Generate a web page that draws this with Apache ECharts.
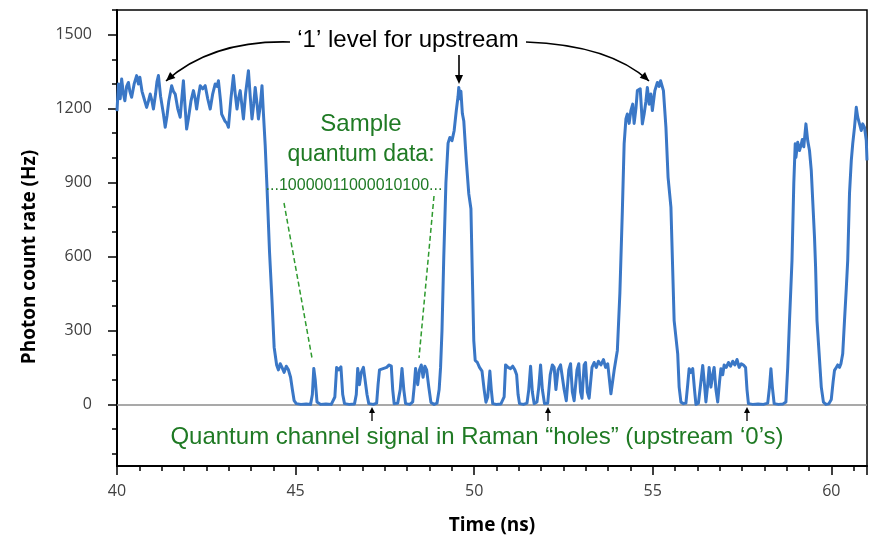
<!DOCTYPE html>
<html>
<head>
<meta charset="utf-8">
<title>Photon count rate</title>
<script src="https://cdn.jsdelivr.net/npm/echarts@6/dist/echarts.min.js"></script>
<style>
  html, body { margin: 0; padding: 0; background: #fff; }
  #chart { width: 884px; height: 548px; }
</style>
</head>
<body>
<div id="chart"></div>
<script>
// [time (ns), photon count rate (Hz)], segment by segment
const highUpstream1 = [
  [40.00,1190],[40.04,1300],[40.09,1240],[40.13,1320],[40.18,1260],[40.22,1232],[40.27,1290],[40.32,1306],
  [40.36,1270],[40.41,1246],[40.48,1300],[40.55,1334],[40.60,1300],[40.64,1327],[40.70,1270],[40.76,1240],
  [40.83,1205],[40.88,1230],[40.93,1259],[40.98,1230],[41.02,1198],[41.08,1260],[41.12,1310],[41.16,1334],
  [41.22,1250],[41.30,1178],[41.35,1124],[41.40,1170],[41.45,1230],[41.53,1293],[41.58,1270],[41.63,1259],
  [41.70,1200],[41.77,1165],[41.82,1250],[41.86,1313],[41.90,1220],[41.95,1117],[42.00,1160],[42.07,1230],
  [42.14,1273],[42.19,1240],[42.23,1198],[42.28,1250],[42.33,1293],[42.40,1280],[42.47,1293],[42.54,1240],
  [42.61,1198],[42.68,1260],[42.75,1300],[42.80,1290],[42.84,1313],[42.90,1230],[42.93,1178],[43.02,1150],
  [43.08,1140],[43.12,1124],[43.19,1240],[43.26,1334],[43.31,1260],[43.36,1198],[43.40,1240],[43.45,1273],
  [43.50,1210],[43.54,1158],[43.60,1260],[43.68,1354],[43.73,1250],[43.78,1158],[43.83,1220],[43.87,1286],
  [43.92,1220],[43.96,1158],[44.01,1210],[44.06,1293],[44.10,1180]
];
const holes1 = [
  [44.15,1050],[44.20,880],[44.27,620],[44.34,421],[44.40,232],[44.47,160],[44.52,140],[44.57,165],
  [44.62,150],[44.68,130],[44.74,155],[44.80,140],[44.86,110],[44.91,60],[44.96,15],[45.02,3],
  [45.15,0],[45.30,2],[45.42,0],[45.47,40],[45.51,146],[45.55,100],[45.60,10],[45.70,0],
  [45.85,2],[46.00,0],[46.10,30],[46.15,150],[46.21,140],[46.27,152],[46.32,40],[46.37,3],
  [46.50,0],[46.65,2],[46.70,40],[46.74,146],[46.79,80],[46.84,130],[46.90,150],[46.95,148],
  [47.00,40],[47.05,3],[47.18,0],[47.27,5],[47.31,80],[47.35,140],[47.45,145],[47.55,150],
  [47.62,160],[47.68,155],[47.72,60],[47.76,3],[47.86,5],[47.93,60],[47.98,146],[48.03,60],
  [48.08,3],[48.20,0],[48.28,10],[48.32,70],[48.36,146],[48.42,80],[48.47,140],[48.52,160],
  [48.57,110],[48.62,155],[48.67,140],[48.73,70],[48.79,8],[48.88,0],[48.96,5]
];
const highUpstream2 = [
  [49.02,60],[49.06,150],[49.10,300],[49.15,600],[49.21,900],[49.27,1060],[49.32,1083],[49.38,1070],
  [49.44,1110],[49.50,1192],[49.55,1250],[49.57,1286],[49.60,1240],[49.63,1270],[49.67,1180],[49.71,1150],
  [49.78,990],[49.85,854],[49.91,794],[49.95,520],[49.99,259]
];
const holes2 = [
  [50.03,178],[50.09,170],[50.15,150],[50.22,135],[50.28,60],[50.33,9],[50.38,30],[50.44,135],
  [50.48,60],[50.52,3],[50.62,0],[50.75,2],[50.84,30],[50.88,160],[50.95,150],[51.02,145],
  [51.08,155],[51.14,140],[51.19,120],[51.23,40],[51.27,3],[51.38,0],[51.48,5],[51.53,60],
  [51.58,155],[51.63,50],[51.68,3],[51.76,10],[51.81,70],[51.86,160],[51.91,60],[51.97,3],
  [52.06,5],[52.13,120],[52.19,160],[52.24,150],[52.29,60],[52.35,140],[52.42,160],[52.47,165],
  [52.52,60],[52.58,15],[52.65,140],[52.70,165],[52.75,50],[52.80,15],[52.88,140],[52.93,165],
  [52.98,50],[53.02,25],[53.08,160],[53.12,170],[53.17,50],[53.22,25],[53.30,150],[53.36,170],
  [53.42,150],[53.48,175],[53.55,160],[53.62,182],[53.68,150],[53.74,165],[53.83,43],[53.92,138],
  [54.01,219]
];
const highUpstream3 = [
  [54.08,450],[54.15,786],[54.20,1057],[54.25,1158],[54.29,1178],[54.34,1140],[54.39,1193],[54.44,1218],
  [54.48,1140],[54.53,1200],[54.57,1273],[54.65,1280],[54.71,1138],[54.76,1178],[54.81,1230],[54.85,1286],
  [54.90,1218],[54.95,1259],[54.99,1192],[55.06,1273],[55.13,1306],[55.18,1290],[55.22,1313],[55.30,1273],
  [55.37,1124],[55.43,921],[55.51,800],[55.60,340],[55.70,205],[55.74,70],[55.79,9]
];
const holes3 = [
  [55.86,3],[55.93,5],[55.98,80],[56.02,145],[56.07,130],[56.12,145],[56.17,60],[56.21,0],
  [56.28,5],[56.34,80],[56.40,158],[56.45,80],[56.49,10],[56.54,80],[56.58,150],[56.63,70],
  [56.68,120],[56.72,150],[56.77,60],[56.82,10],[56.87,90],[56.91,145],[56.96,120],[57.00,160],
  [57.06,150],[57.12,170],[57.18,155],[57.24,175],[57.30,160],[57.36,182],[57.42,150],[57.48,165],
  [57.54,160],[57.60,150],[57.64,60],[57.68,3],[57.80,0],[57.95,2],[58.10,0],[58.22,5],
  [58.27,70],[58.31,145],[58.35,70],[58.40,3],[58.52,0],[58.65,2],[58.73,10],[58.78,150],
  [58.83,340]
];
const highUpstream4 = [
  [58.90,584],[58.95,895],[58.99,1057],[59.01,1002],[59.06,1063],[59.11,1030],[59.15,1050],[59.19,1075],
  [59.23,1045],[59.29,1138],[59.34,1070],[59.39,1030],[59.44,948],[59.48,827],[59.53,678],[59.56,560],
  [59.60,340],[59.66,205],[59.72,70],[59.78,9]
];
const holes4 = [
  [59.85,0],[59.93,2],[60.00,20],[60.05,90],[60.09,138],[60.14,150],[60.18,160],[60.23,150],
  [60.27,165],[60.32,205],[60.37,340]
];
const highUpstream5 = [
  [60.42,470],[60.46,584],[60.51,855],[60.56,989],[60.60,1057],[60.65,1124],[60.70,1205],[60.74,1165],
  [60.79,1138],[60.84,1111],[60.88,1138],[60.93,1124],[60.98,1070],[61.00,990]
];

const yTickLabels = [0, 300, 600, 900, 1200, 1500];
const yMinorTicks = [-200, -100, 0, 100, 200, 300, 400, 500, 600, 700, 800, 900,
  1000, 1100, 1200, 1300, 1400, 1500, 1600];

const trace = [].concat(highUpstream1, holes1, highUpstream2, holes2, highUpstream3,
  holes3, highUpstream4, holes4, highUpstream5);

const BLUE = "#3a77c6";
const GREEN = "#1f7a24";

// little helper for arrow heads (tip at x,y, pointing along angle)
function arrowHead(x, y, angle, len, half, color) {
  const bx = x - Math.cos(angle) * len;
  const by = y - Math.sin(angle) * len;
  const px = -Math.sin(angle) * half;
  const py = Math.cos(angle) * half;
  return {
    type: "polygon",
    z: 100,
    shape: { points: [[x, y], [bx + px, by + py], [bx - px, by - py]] },
    style: { fill: color },
  };
}

function curvedArrow(x1, y1, cx, cy, x2, y2) {
  return [
    {
      type: "bezierCurve",
      z: 100,
      shape: { x1: x1, y1: y1, cpx1: cx, cpy1: cy, x2: x2, y2: y2 },
      style: { stroke: "#000", lineWidth: 1.6, fill: null },
    },
    arrowHead(x2, y2, Math.atan2(y2 - cy, x2 - cx), 9, 4, "#000"),
  ];
}

function straightArrow(x, yFrom, yTo, len, half, width) {
  return [
    {
      type: "line",
      z: 100,
      shape: { x1: x, y1: yFrom, x2: x, y2: yTo + (yTo > yFrom ? -len + 1 : len - 1) },
      style: { stroke: "#000", lineWidth: width },
    },
    arrowHead(x, yTo, yTo > yFrom ? Math.PI / 2 : -Math.PI / 2, len, half, "#000"),
  ];
}

function label(text, x, y, size, color, extra) {
  return Object.assign({
    type: "text",
    z: 100,
    x: x,
    y: y,
    style: {
      text: text,
      fill: color,
      font: size + "px 'Liberation Sans', Arial, sans-serif",
      align: "center",
      verticalAlign: "middle",
    },
  }, extra || {});
}

const chart = echarts.init(document.getElementById("chart"), null, { renderer: "canvas" });

const annotations = [].concat(
  label("\u20181\u2019 level for upstream", 408, 40, 24, "#000"),
  curvedArrow(290, 42, 212, 40, 166, 81),
  curvedArrow(526, 42, 610, 45, 649, 81),
  straightArrow(459, 55, 84, 9, 4, 1.6),
  label("Sample", 361, 124, 24, GREEN),
  label("quantum data:", 361, 155, 23, GREEN),
  label("...10000011000010100...", 354, 186, 16, GREEN),
  {
    type: "line", z: 100,
    shape: { x1: 284, y1: 203, x2: 312, y2: 358 },
    style: { stroke: "#2e9a2e", lineWidth: 1.5, lineDash: [5, 3] },
  },
  {
    type: "line", z: 100,
    shape: { x1: 434, y1: 196, x2: 419, y2: 358 },
    style: { stroke: "#2e9a2e", lineWidth: 1.5, lineDash: [5, 3] },
  },
  straightArrow(372, 421, 407, 6, 3, 1.3),
  straightArrow(548, 421, 407, 6, 3, 1.3),
  straightArrow(747, 421, 407, 6, 3, 1.3),
  label("Quantum channel signal in Raman \u201choles\u201d (upstream \u20180\u2019s)", 477, 437, 24, GREEN),
  label("Photon count rate (Hz)", 30, 257, 0, "#000", {
    rotation: Math.PI / 2,
    style: {
      text: "Photon count rate (Hz)",
      fill: "#000",
      font: "bold 19px 'Open Sans', sans-serif",
      align: "center",
      verticalAlign: "middle",
    },
  })
);

const option = {
  animation: false,
  backgroundColor: "#fff",
  grid: {
    left: 117, right: 17, top: 10, bottom: 82,
    show: true, borderColor: "#000", borderWidth: 1.5,
  },
  xAxis: {
    type: "value",
    min: 40, max: 61, interval: 5,
    name: "Time (ns)",
    nameLocation: "middle",
    nameGap: 50,
    nameTextStyle: { fontFamily: "Open Sans", fontWeight: "bold", fontSize: 19, color: "#000" },
    axisLine: { show: true, onZero: false, lineStyle: { color: "#000", width: 2 } },
    axisTick: { show: true, length: 9, lineStyle: { color: "#000", width: 1.5 } },
    minorTick: { show: true, splitNumber: 8, length: 5, lineStyle: { color: "#000", width: 1.5 } },
    axisLabel: { fontFamily: "Open Sans", fontSize: 16, color: "#404040", margin: 17, showMaxLabel: false },
    splitLine: { show: false },
  },
  yAxis: [
    {
      type: "value",
      min: -250, max: 1600,
      axisLine: { show: true, onZero: false, lineStyle: { color: "#000", width: 2 } },
      axisTick: { show: true, customValues: yTickLabels, length: 9, lineStyle: { color: "#000", width: 1.5 } },
      axisLabel: {
        customValues: yTickLabels,
        formatter: (v) => String(v),
        fontFamily: "Open Sans", fontSize: 16, color: "#404040", margin: 25,
      },
      splitLine: { show: false },
    },
    {
      type: "value",
      min: -250, max: 1600,
      position: "left",
      axisLine: { show: false },
      axisTick: { show: true, customValues: yMinorTicks, length: 5, lineStyle: { color: "#000", width: 1.5 } },
      axisLabel: { show: false },
      splitLine: { show: false },
    },
  ],
  series: [
    {
      name: "Photon count rate",
      type: "line",
      data: trace,
      showSymbol: false,
      symbol: "none",
      z: 3,
      lineStyle: { color: BLUE, width: 3, join: "round" },
      markLine: {
        silent: true,
        symbol: "none",
        z: 1,
        label: { show: false },
        lineStyle: { color: "#8c8c8c", width: 1.6, type: "solid" },
        data: [{ yAxis: 0 }],
        animation: false,
      },
    },
  ],
  graphic: annotations,
};

chart.setOption(option);
</script>
</body>
</html>
